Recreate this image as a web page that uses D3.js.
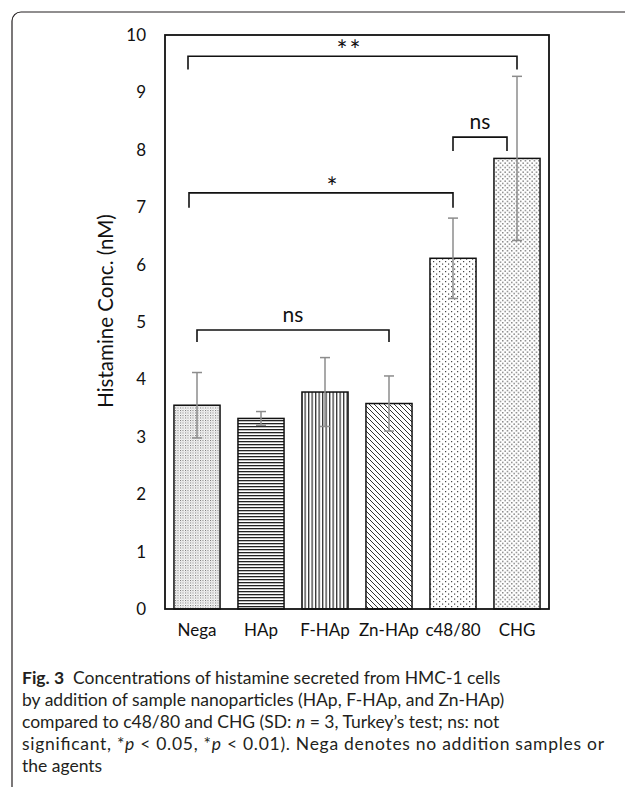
<!DOCTYPE html>
<html>
<head>
<meta charset="utf-8">
<script src="https://cdn.jsdelivr.net/npm/d3@7"></script>
<style>
  body { margin: 0; background: #fff; }
  text { font-family: Lato, "Open Sans", sans-serif; fill: #111; }
  .caption text { fill: #231f20; }
</style>
</head>
<body>
<svg id="chart" width="625" height="787"></svg>
<script>
const categories = ["Nega", "HAp", "F-HAp", "Zn-HAp", "c48/80", "CHG"];
const means = [3.55, 3.32, 3.78, 3.58, 6.11, 7.85];
const sds = [0.57, 0.12, 0.60, 0.48, 0.70, 1.43];
const yTicks = [0, 1, 2, 3, 4, 5, 6, 7, 8, 9, 10];

// significance brackets
const bracketLabels = ["**", "ns", "*", "ns"];
const bracketFrom = ["Nega", "c48/80", "Nega", "Nega"];
const bracketTo = ["CHG", "CHG", "c48/80", "Zn-HAp"];
const bracketLevels = [9.63, 8.22, 7.25, 4.86];
const bracketTips = [9.40, 7.98, 6.99, 4.65];

const captionLines = [
  [{t: "Fig. 3", b: true}, {t: "  Concentrations of histamine secreted from HMC-1 cells"}],
  [{t: "by addition of sample nanoparticles (HAp, F-HAp, and Zn-HAp)"}],
  [{t: "compared to c48/80 and CHG (SD: "}, {t: "n", i: true}, {t: " = 3, Turkey\u2019s test; ns: not"}],
  [{t: "significant, *"}, {t: "p", i: true}, {t: " < 0.05, *"}, {t: "p", i: true}, {t: " < 0.01). Nega denotes no addition samples or"}],
  [{t: "the agents"}]
];

const svg = d3.select("#chart");

// outer frame of the figure
svg.append("rect")
  .attr("x", 12).attr("y", 12)
  .attr("width", 700).attr("height", 784)
  .attr("rx", 9)
  .attr("fill", "none").attr("stroke", "#231f20").attr("stroke-width", 1.2);

const plot = {left: 165, right: 549, top: 35, bottom: 609};

const x = d3.scaleBand()
  .domain(categories)
  .range([plot.left, plot.right])
  .paddingInner(0.28)
  .paddingOuter(0.14);

const y = d3.scaleLinear()
  .domain([0, 10])
  .range([plot.bottom, plot.top]);

// patterns
const defs = svg.append("defs");

function pat(id, w, h) {
  const p = defs.append("pattern")
    .attr("id", id)
    .attr("patternUnits", "userSpaceOnUse")
    .attr("width", w).attr("height", h);
  p.append("rect").attr("width", w).attr("height", h).attr("fill", "#fff");
  return p;
}

// Nega: fine stipple
let p = pat("p-nega", 2.5, 2.5);
p.append("rect").attr("x", 0).attr("y", 0).attr("width", 1).attr("height", 1).attr("fill", "#666");
p.append("rect").attr("x", 1.25).attr("y", 1.25).attr("width", 0.8).attr("height", 0.8).attr("fill", "#999");

// HAp: horizontal lines
p = pat("p-hap", 4, 3);
p.append("rect").attr("x", 0).attr("y", 0).attr("width", 4).attr("height", 1.3).attr("fill", "#222");

// F-HAp: vertical lines
p = pat("p-fhap", 3.5, 4);
p.append("rect").attr("x", 0).attr("y", 0).attr("width", 1.3).attr("height", 4).attr("fill", "#333");

// Zn-HAp: diagonal lines
p = pat("p-zn", 5, 5);
p.append("path").attr("d", "M0,0L5,5M-1,4L1,6M4,-1L6,1")
  .attr("stroke", "#333").attr("stroke-width", 1);

// c48/80: sparse dots
p = pat("p-c48", 6, 5);
p.append("rect").attr("x", 1).attr("y", 1).attr("width", 1.2).attr("height", 1.2).attr("fill", "#444");
p.append("rect").attr("x", 4).attr("y", 3.5).attr("width", 1.2).attr("height", 1.2).attr("fill", "#444");

// CHG: denser staggered dots
p = pat("p-chg", 4.5, 4.5);
p.append("rect").attr("x", 0.5).attr("y", 0.5).attr("width", 1.2).attr("height", 1.2).attr("fill", "#444");
p.append("rect").attr("x", 2.75).attr("y", 2.75).attr("width", 1.2).attr("height", 1.2).attr("fill", "#444");

const fills = d3.scaleOrdinal()
  .domain(categories)
  .range(["p-nega", "p-hap", "p-fhap", "p-zn", "p-c48", "p-chg"]);

// bars
svg.append("g")
  .selectAll("rect")
  .data(categories)
  .join("rect")
  .attr("x", d => x(d))
  .attr("y", (d, i) => y(means[i]))
  .attr("width", x.bandwidth())
  .attr("height", (d, i) => y(0) - y(means[i]))
  .attr("fill", d => "url(#" + fills(d) + ")")
  .attr("stroke", "#111")
  .attr("stroke-width", 1.5);

// error bars
const eb = svg.append("g")
  .attr("stroke", "#8c8c8c")
  .attr("stroke-width", 1.5);
categories.forEach((c, i) => {
  const cx = x(c) + x.bandwidth() / 2;
  const hi = y(means[i] + sds[i]);
  const lo = y(means[i] - sds[i]);
  eb.append("line").attr("x1", cx).attr("x2", cx).attr("y1", hi).attr("y2", lo);
  eb.append("line").attr("x1", cx - 5).attr("x2", cx + 5).attr("y1", hi).attr("y2", hi);
  eb.append("line").attr("x1", cx - 5).attr("x2", cx + 5).attr("y1", lo).attr("y2", lo);
});

// plot frame
svg.append("rect")
  .attr("x", plot.left).attr("y", plot.top)
  .attr("width", plot.right - plot.left)
  .attr("height", plot.bottom - plot.top)
  .attr("fill", "none")
  .attr("stroke", "#111")
  .attr("stroke-width", 1.8);

// y axis
const yAxis = svg.append("g")
  .attr("transform", "translate(" + plot.left + ",0)")
  .call(d3.axisLeft(y).tickValues(yTicks).tickFormat(d3.format("d")).tickSize(0).tickPadding(19));
yAxis.select(".domain").remove();
yAxis.selectAll("text").attr("font-size", 17).attr("font-family", "Lato, sans-serif").attr("fill", "#111");

// x axis
const xAxis = svg.append("g")
  .attr("transform", "translate(0," + plot.bottom + ")")
  .call(d3.axisBottom(x).tickSize(0).tickPadding(15));
xAxis.select(".domain").remove();
xAxis.selectAll("text").attr("font-size", 17).attr("font-family", "Lato, sans-serif").attr("fill", "#111");

// y axis title
svg.append("text")
  .attr("transform", "translate(108," + 311 + ") rotate(-90)")
  .attr("text-anchor", "middle")
  .attr("dominant-baseline", "middle")
  .attr("font-size", 20.5)
  .text("Histamine Conc. (nM)");

// brackets: small nudges so the ends sit where the original drew them
const nudgeFrom = [-9, 0, -8, 0];
const nudgeTo = [0, -10, 0, 0];
const labelShift = [-3, 0, 12, 0];
const br = svg.append("g");
bracketLabels.forEach((lab, i) => {
  const x0 = x(bracketFrom[i]) + x.bandwidth() / 2 + nudgeFrom[i];
  const x1 = x(bracketTo[i]) + x.bandwidth() / 2 + nudgeTo[i];
  const yl = y(bracketLevels[i]);
  const yt = y(bracketTips[i]);
  br.append("path")
    .attr("d", "M" + x0 + "," + yt + "V" + yl + "H" + x1 + "V" + yt)
    .attr("fill", "none")
    .attr("stroke", "#111")
    .attr("stroke-width", 1.6);
  const isStar = lab.indexOf("*") >= 0;
  br.append("text")
    .attr("x", (x0 + x1) / 2 + labelShift[i])
    .attr("y", isStar ? yl + 4 : yl - 8)
    .attr("text-anchor", "middle")
    .attr("font-family", isStar ? "'DejaVu Sans', sans-serif" : "Lato, sans-serif")
    .attr("font-size", isStar ? 26 : 21)
    .attr("letter-spacing", isStar ? 2 : 0)
    .text(lab);
});

// caption
const cap = svg.append("g").attr("class", "caption");
captionLines.forEach((line, i) => {
  const t = cap.append("text")
    .attr("x", 22)
    .attr("y", 684 + i * 22)
    .attr("font-size", 17.5)
    .attr("font-family", "Lato, sans-serif");
  line.forEach(seg => {
    t.append("tspan")
      .attr("font-weight", seg.b ? 700 : 400)
      .attr("font-style", seg.i ? "italic" : "normal")
      .style("white-space", "pre")
      .text(seg.t);
  });
  // the fourth line runs out to the right edge in the original
  if (i === 3) {
    t.attr("textLength", 604 - 22).attr("lengthAdjust", "spacing");
  }
});
</script>
</body>
</html>
